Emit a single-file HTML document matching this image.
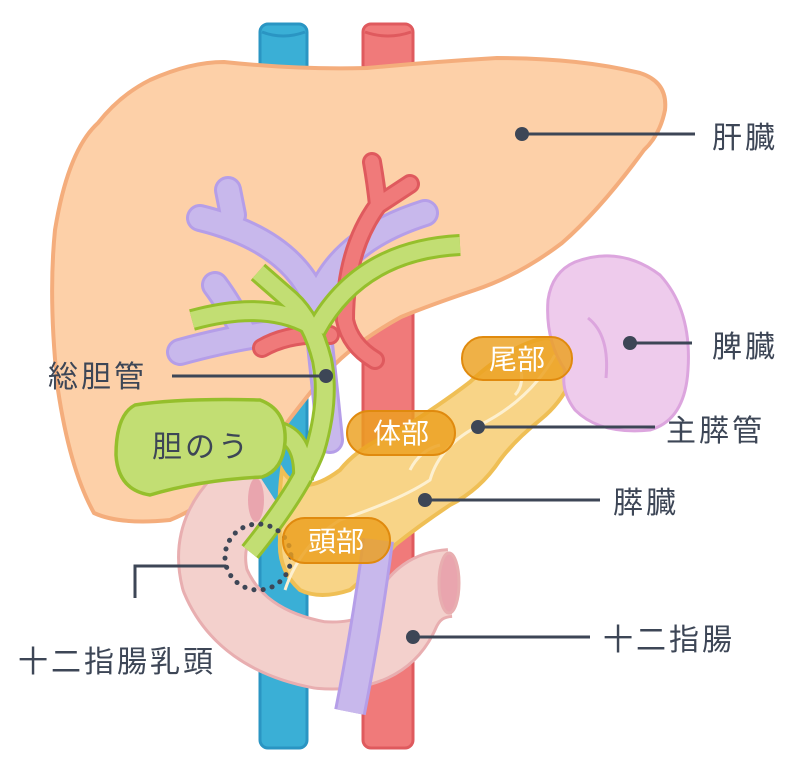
<!DOCTYPE html>
<html><head><meta charset="utf-8"><style>
html,body{margin:0;padding:0;background:#fff;width:800px;height:770px;overflow:hidden}
svg{display:block}
text{font-family:"Liberation Sans","Noto Sans CJK JP",sans-serif;}
</style></head><body>
<svg width="800" height="770" viewBox="0 0 800 770" xmlns="http://www.w3.org/2000/svg">
<rect x="260" y="24" width="47" height="724" rx="8" fill="#3aafd6" stroke="#2a95c3" stroke-width="3"/>
<path d="M262 32 Q283 40 305 32" fill="none" stroke="#2a95c3" stroke-width="3"/>
<rect x="363" y="24" width="50" height="724" rx="8" fill="#f07a7a" stroke="#df5a5e" stroke-width="3"/>
<path d="M365 32 Q388 40 411 32" fill="none" stroke="#df5a5e" stroke-width="3"/>
<path d="M150 80 Q190 62 224 62 Q300 70 367 68 Q430 62 497 58 Q580 58 640 73 Q668 82 665 110 Q660 135 644 150 Q600 210 562 243 Q520 275 475 290 Q430 305 401 317 Q350 345 323 377 Q300 405 280 432 Q220 500 170 520 Q120 525 94 513 Q70 470 58 390 Q48 300 55 230 Q68 150 98 123 Q120 95 150 80 Z" fill="#fdd0a8" stroke="#f4ad7c" stroke-width="4"/>
<g fill="none" stroke-linecap="round" stroke-linejoin="round">
<g stroke="#b59ee8" stroke-width="28">
<path d="M330 440 Q322 360 315 300 Q290 240 200 218"/>
<path d="M228 190 L233 215"/>
<path d="M318 300 Q340 240 425 213"/>
<path d="M316 330 Q260 330 180 352"/>
<path d="M215 285 Q230 305 245 335"/>
</g>
<g stroke="#c8b8ec" stroke-width="22">
<path d="M330 440 Q322 360 315 300 Q290 240 200 218"/>
<path d="M228 190 L233 215"/>
<path d="M318 300 Q340 240 425 213"/>
<path d="M316 330 Q260 330 180 352"/>
<path d="M215 285 Q230 305 245 335"/>
</g>
<g stroke="#df5a5e" stroke-width="20">
<path d="M372 162 Q376 185 378 205 Q345 250 345 320 Q350 345 375 360"/>
<path d="M378 205 L410 184"/>
<path d="M262 348 Q290 332 330 335"/>
</g>
<g stroke="#f07a7a" stroke-width="14">
<path d="M372 162 Q376 185 378 205 Q345 250 345 320 Q350 345 375 360"/>
<path d="M378 205 L410 184"/>
<path d="M262 348 Q290 332 330 335"/>
</g>
</g>
<!-- Duodenum -->
<g fill="none" stroke-linecap="butt" stroke-linejoin="round">
<path d="M262 480 Q200 520 215 580 Q240 640 320 655 Q385 660 405 615 Q418 585 450 583" stroke="#e8aeb0" stroke-width="70"/>
<path d="M262 480 Q200 520 215 580 Q240 640 320 655 Q385 660 405 615 Q418 585 450 583" stroke="#f3d0cc" stroke-width="64"/>
</g>
<ellipse cx="449" cy="583" rx="10" ry="30" fill="#e9a5ae" stroke="#e8aeb0" stroke-width="3"/>
<ellipse cx="256" cy="500" rx="8" ry="22" fill="#e9a5ae"/>
<!-- Pancreas -->
<path d="M282 470 Q300 500 340 470 Q360 445 400 430 Q440 405 470 382 Q510 345 545 338 Q575 340 575 370 Q565 400 540 420 Q515 440 500 460 Q480 490 450 505 Q420 525 395 545 Q375 570 350 590 Q320 600 300 590 Q278 570 280 540 Q278 500 282 470 Z" fill="#f8d487" stroke="#efbf55" stroke-width="4"/>
<g fill="none" stroke="#fdf0d0" stroke-width="3">
<path d="M555 355 Q530 400 480 425 Q440 445 430 480 Q400 500 340 520 Q300 545 285 590"/>
<path d="M520 365 Q525 385 515 395"/>
<path d="M440 445 Q420 450 410 470"/>
</g>
<path d="M350 712 Q368 620 378 540" fill="none" stroke="#b59ee8" stroke-width="32"/>
<path d="M350 712 Q368 620 378 540" fill="none" stroke="#c8b8ec" stroke-width="26"/>
<!-- Spleen -->
<path d="M575 262 Q620 245 660 275 Q692 310 688 370 Q685 420 650 430 Q600 435 575 410 Q560 390 565 370 Q545 340 548 300 Q552 272 575 262 Z" fill="#eecbec" stroke="#dca5de" stroke-width="3"/>
<path d="M588 318 Q610 335 606 378" fill="none" stroke="#dca5de" stroke-width="3"/>
<g fill="none" stroke-linecap="butt" stroke-linejoin="round">
<g stroke="#95bf2c" stroke-width="22">
<path d="M250 552 Q300 490 315 450 Q330 400 322 360 Q312 320 290 300 L258 272"/>
<path d="M310 325 Q265 300 192 320"/>
<path d="M316 330 Q360 250 460 245"/>
<path d="M280 432 Q305 440 303 480"/>
</g>
<g stroke="#c2de73" stroke-width="16">
<path d="M250 552 Q300 490 315 450 Q330 400 322 360 Q312 320 290 300 L258 272"/>
<path d="M310 325 Q265 300 192 320"/>
<path d="M316 330 Q360 250 460 245"/>
<path d="M280 432 Q305 440 303 480"/>
</g>
</g>
<path d="M135 405 Q180 398 260 400 Q287 410 285 442 Q283 470 262 477 Q200 480 150 495 Q118 490 116 455 Q116 415 135 405 Z" fill="#c2de73" stroke="#95bf2c" stroke-width="3.5"/>
<circle cx="258" cy="557" r="33" fill="none" stroke="#3d4656" stroke-width="5" stroke-dasharray="0.1 9.2" stroke-linecap="round"/>
<g fill="#eba01e" fill-opacity="0.82" stroke="#e08a0e" stroke-width="2">
<rect x="462" y="337" width="110" height="43" rx="21"/>
<rect x="347" y="411" width="108" height="44" rx="22"/>
<rect x="283" y="518" width="107" height="45" rx="22"/>
</g>
<g fill="#fff" font-size="28" text-anchor="middle">
<text x="517" y="369">尾部</text>
<text x="401" y="443">体部</text>
<text x="336" y="551">頭部</text>
</g>
<g stroke="#3d4656" stroke-width="3" fill="none">
<line x1="522" y1="134" x2="695" y2="134"/>
<line x1="630" y1="343" x2="692" y2="343"/>
<line x1="478" y1="427" x2="655" y2="427"/>
<line x1="425" y1="500" x2="600" y2="500"/>
<line x1="413" y1="637" x2="590" y2="637"/>
<line x1="172" y1="376" x2="326" y2="376"/>
<polyline points="226,566 135,566 135,598"/>
</g>
<g fill="#3d4656">
<circle cx="522" cy="134" r="7"/>
<circle cx="630" cy="343" r="7"/>
<circle cx="478" cy="427" r="7"/>
<circle cx="425" cy="500" r="7"/>
<circle cx="413" cy="637" r="7"/>
<circle cx="326" cy="376" r="7"/>
</g>
<g fill="#3d4656" font-size="30" letter-spacing="3">
<text x="712" y="148">肝臓</text>
<text x="712" y="357">脾臓</text>
<text x="666" y="441">主膵管</text>
<text x="613" y="513">膵臓</text>
<text x="603" y="650">十二指腸</text>
<text x="48" y="387">総胆管</text>
<text x="152" y="457">胆のう</text>
<text x="18" y="672">十二指腸乳頭</text>
</g>
</svg>
</body></html>
